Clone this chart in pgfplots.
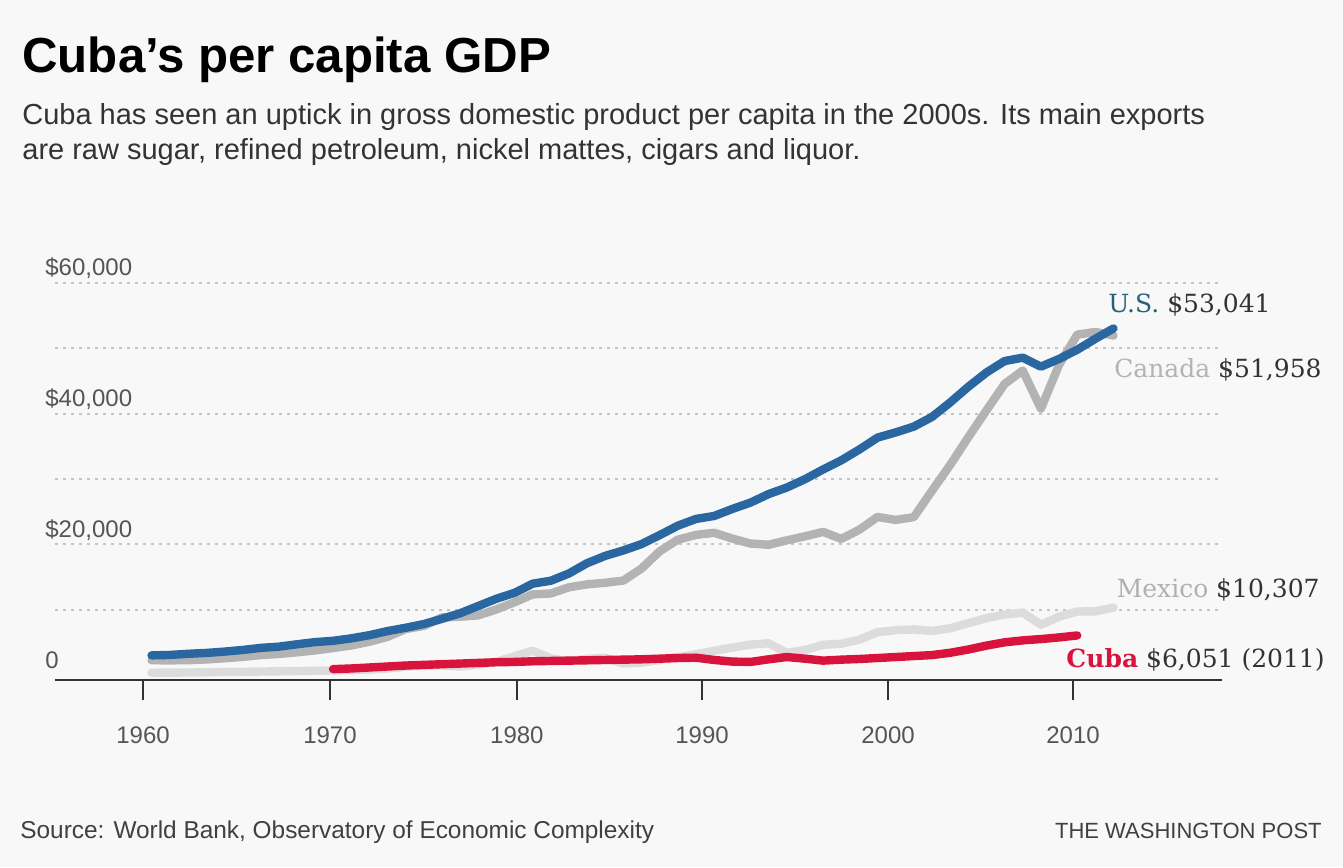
\documentclass[border=0pt]{standalone}
\usepackage{fontspec}
\setmainfont{Liberation Sans}
\newfontfamily\serieslabel{DejaVu Serif}
\usepackage{pgfplots}
\pgfplotsset{compat=1.18}

\definecolor{bg}{HTML}{F8F8F8}
\definecolor{usblue}{HTML}{2A66A0}
\definecolor{usname}{HTML}{2B5F7A}
\definecolor{cangray}{HTML}{B3B3B3}
\definecolor{mexgray}{HTML}{DCDCDC}
\definecolor{cubared}{HTML}{D8143C}
\definecolor{gridgray}{HTML}{C4C4C4}
\definecolor{ticktext}{HTML}{555555}
\definecolor{valtext}{HTML}{333333}

\begin{document}
\begin{tikzpicture}
% page background (1343x867 px at 0.5pt per px)
\fill[bg] (-27.5pt,-93.5pt) rectangle (644pt,340pt);

\begin{axis}[
  at={(0pt,0pt)}, anchor=south west,
  scale only axis, width=583.5pt, height=198.5pt,
  xmin=1954.68, xmax=2018.98, ymin=-765, ymax=60000,
  axis x line=bottom, axis y line=left,
  x axis line style={-, draw=black!80, line width=1.3pt},
  y axis line style={draw=none},
  xtick={1959.53,1969.83,1980.13,1990.33,2000.58,2010.77},
  xticklabels={1960,1970,1980,1990,2000,2010},
  xtick align=outside,
  major tick length=10pt,
  xtick style={draw=black!80, line width=1.3pt},
  ytick={10000,20000,...,60000},
  yticklabels={{},{\$20,000},{},{\$40,000},{},{\$60,000}},
  scaled y ticks=false,
  extra y ticks={0}, extra y tick labels={0},
  extra y tick style={grid=none, tick style={draw=none}},
  ytick style={draw=none},
  ymajorgrids,
  grid style={gridgray, line width=1pt, dash pattern=on 1.5pt off 2.5pt},
  tick label style={font=\fontsize{12}{14}\selectfont, text=ticktext},
  yticklabel style={anchor=base west, inner sep=0pt, yshift=3.5pt},
  xticklabel style={yshift=-10pt},
  clip=false,
  every axis plot/.append style={line width=4.2pt, line join=round, line cap=round, mark=none},
]

% Mexico
\addplot[mexgray] coordinates {
(1960,345) (1961,365) (1962,382) (1963,410) (1964,469) (1965,491) (1966,530) (1967,564)
(1968,607) (1969,649) (1970,692) (1971,741) (1972,829) (1973,989) (1974,1243) (1975,1477)
(1976,1453) (1977,1301) (1978,1589) (1979,2033) (1980,2859) (1981,3716) (1982,2548) (1983,2114)
(1984,2485) (1985,2615) (1986,1779) (1987,1880) (1988,2304) (1989,2743) (1990,3175) (1991,3697)
(1992,4205) (1993,4653) (1994,4858) (1995,3389) (1996,3823) (1997,4621) (1998,4785) (1999,5407)
(2000,6553) (2001,6864) (2002,6982) (2003,6732) (2004,7150) (2005,7937) (2006,8701) (2007,9253)
(2008,9561) (2009,7697) (2010,8921) (2011,9718) (2012,9749) (2013,10307)};

% Canada
\addplot[cangray] coordinates {
(1960,2259) (1961,2240) (1962,2269) (1963,2374) (1964,2555) (1965,2770) (1966,3047) (1967,3217)
(1968,3463) (1969,3764) (1970,4122) (1971,4520) (1972,5090) (1973,5839) (1974,7033) (1975,7512)
(1976,8809) (1977,8919) (1978,9124) (1979,10044) (1980,11135) (1981,12338) (1982,12482) (1983,13425)
(1984,13877) (1985,14114) (1986,14461) (1987,16309) (1988,18936) (1989,20716) (1990,21448) (1991,21768)
(1992,20879) (1993,20121) (1994,19935) (1995,20614) (1996,21227) (1997,21902) (1998,20832) (1999,22236)
(2000,24190) (2001,23738) (2002,24168) (2003,28200) (2004,32143) (2005,36382) (2006,40504) (2007,44544)
(2008,46596) (2009,40773) (2010,47450) (2011,52101) (2012,52496) (2013,51958)};

% United States
\addplot[usblue] coordinates {
(1960,3007) (1961,3067) (1962,3244) (1963,3375) (1964,3574) (1965,3828) (1966,4146) (1967,4336)
(1968,4696) (1969,5032) (1970,5234) (1971,5609) (1972,6094) (1973,6726) (1974,7226) (1975,7801)
(1976,8592) (1977,9453) (1978,10565) (1979,11674) (1980,12575) (1981,13976) (1982,14434) (1983,15544)
(1984,17121) (1985,18237) (1986,19071) (1987,20039) (1988,21417) (1989,22857) (1990,23889) (1991,24342)
(1992,25419) (1993,26387) (1994,27695) (1995,28691) (1996,29968) (1997,31459) (1998,32854) (1999,34515)
(2000,36335) (2001,37133) (2002,38023) (2003,39496) (2004,41712) (2005,44115) (2006,46299) (2007,48050)
(2008,48570) (2009,47195) (2010,48374) (2011,49781) (2012,51457) (2013,53041)};

% Cuba
\addplot[cubared] coordinates {
(1970,900) (1971,1000) (1972,1150) (1973,1300) (1974,1450) (1975,1550) (1976,1650) (1977,1750)
(1978,1850) (1979,1950) (1980,2000) (1981,2100) (1982,2150) (1983,2200) (1984,2250) (1985,2300)
(1986,2350) (1987,2400) (1988,2500) (1989,2600) (1990,2650) (1991,2300) (1992,2050) (1993,2000)
(1994,2400) (1995,2750) (1996,2500) (1997,2200) (1998,2350) (1999,2450) (2000,2600) (2001,2750)
(2002,2900) (2003,3050) (2004,3400) (2005,3900) (2006,4500) (2007,5000) (2008,5300) (2009,5500)
(2010,5750) (2011,6051)};

% end labels
\begin{scope}[every node/.style={inner sep=0pt, text=valtext, font=\serieslabel\fontsize{12.5}{14}\selectfont}]
\node[anchor=west] at (axis cs:2012.7,56640) {\textcolor{usname}{U.S.} \$53,041};
\node[anchor=east] at (axis cs:2024.49,46690) {\textcolor{cangray}{Canada} \$51,958};
\node[anchor=east] at (axis cs:2024.38,13010) {\textcolor{mexgray!80!black}{Mexico} \$10,307};
\node[anchor=east] at (axis cs:2024.66,2296) {\textcolor{cubared}{\bfseries Cuba} \$6,051 (2011)};
\end{scope}
\end{axis}

% title, subtitle, credits
\node[anchor=base west, inner sep=0pt, font=\bfseries\fontsize{24.6}{30}\selectfont] at (-16.5pt,303.5pt) {Cuba’s per capita GDP};
\begin{scope}[every node/.style={anchor=base west, inner sep=0pt, text=black!80, font=\fontsize{14.5}{17}\selectfont}]
\node at (-16.5pt,277.5pt) {Cuba has seen an uptick in gross domestic product per capita in the 2000s. Its main exports};
\node at (-16.5pt,260pt) {are raw sugar, refined petroleum, nickel mattes, cigars and liquor.};
\end{scope}
\node[anchor=base west, inner sep=0pt, text=black!75, font=\fontsize{12.2}{14}\selectfont] at (-17.5pt,-79pt) {Source: World Bank, Observatory of Economic Complexity};
\node[anchor=base east, inner sep=0pt, text=black!75, font=\fontsize{11}{13}\selectfont] at (633.5pt,-79pt) {THE WASHINGTON POST};
\end{tikzpicture}
\end{document}
